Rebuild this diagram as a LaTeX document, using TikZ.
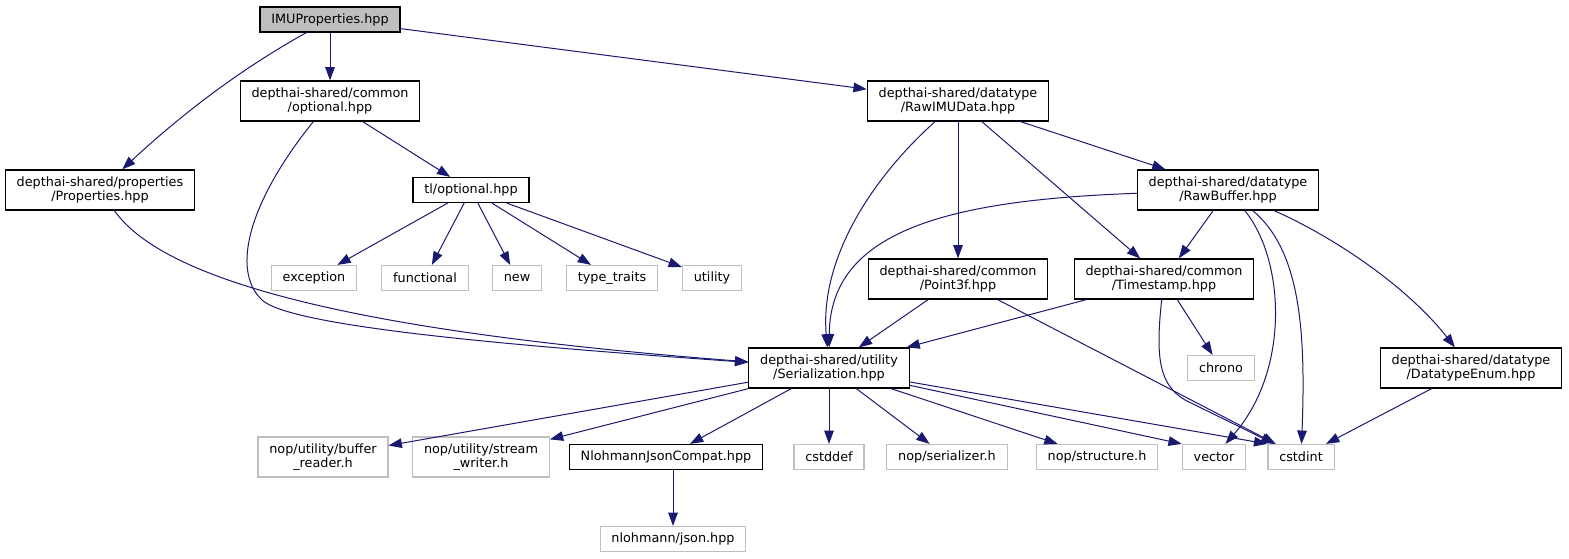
\documentclass[tikz,border=0pt]{standalone}
\usepackage{fontspec}
\setmainfont{DejaVu Sans}
\usetikzlibrary{arrows.meta}
\definecolor{edgeblue}{RGB}{25,25,112}
\definecolor{sysgray}{RGB}{191,191,191}
\tikzset{dep/.style = {color=edgeblue, line width=0.75pt,
                       -{Triangle[length=10pt,width=7.2pt]}}}
\tikzset{hdr/.style = {draw, line width=0.9pt, align=center, inner xsep=8.5pt, inner ysep=2pt,
                       minimum height=18.75pt, font=\fontsize{9.6}{10.5}\selectfont}}
\tikzset{sys/.style = {hdr, draw=sysgray}}
\tikzset{root/.style = {hdr, fill=sysgray}}
\tikzset{dbl/.style = {minimum height=30pt}}

\begin{document}
\begin{tikzpicture}[x=0.75pt, y=-0.75pt]
      \useasboundingbox (0, 0) rectangle (1569, 559);
      \node [root] (imu) at (330, 19.5) {IMUProperties.hpp};
      \node [hdr, dbl] (opt) at (330, 101) {depthai-shared/common\\/optional.hpp};
      \node [hdr, dbl] (props) at (100, 190) {depthai-shared/properties\\/Properties.hpp};
      \node [hdr] (tlopt) at (471, 190) {tl/optional.hpp};
      \node [sys] (exc) at (314, 278) {exception};
      \node [sys] (func) at (425, 278) {functional};
      \node [sys] (new) at (517, 278) {new};
      \node [sys] (traits) at (612, 278) {type\_traits};
      \node [sys] (util) at (712, 278) {utility};
      \node [hdr, dbl] (rawimu) at (958, 101) {depthai-shared/datatype\\/RawIMUData.hpp};
      \node [hdr, dbl] (rawbuf) at (1228, 190) {depthai-shared/datatype\\/RawBuffer.hpp};
      \node [hdr, dbl] (point) at (958, 279) {depthai-shared/common\\/Point3f.hpp};
      \node [hdr, dbl] (tstamp) at (1164, 279) {depthai-shared/common\\/Timestamp.hpp};
      \node [sys] (chrono) at (1221, 368) {chrono};
      \node [hdr, dbl] (dtenum) at (1471, 368) {depthai-shared/datatype\\/DatatypeEnum.hpp};
      \node [hdr, dbl] (ser) at (829, 368) {depthai-shared/utility\\/Serialization.hpp};
      \node [sys, dbl] (bufrd) at (323, 457) {nop/utility/buffer\\\_reader.h};
      \node [sys, dbl] (strwr) at (481, 457) {nop/utility/stream\\\_writer.h};
      \node [hdr] (njc) at (666, 457) {NlohmannJsonCompat.hpp};
      \node [sys] (cstddef) at (829, 457) {cstddef};
      \node [sys] (nopser) at (947, 457) {nop/serializer.h};
      \node [sys] (nopstr) at (1097, 457) {nop/structure.h};
      \node [sys] (vector) at (1214, 457) {vector};
      \node [sys] (cstdint) at (1301, 457) {cstdint};
      \node [sys] (json) at (673, 539) {nlohmann/json.hpp};

      \draw [dep] (imu) .. controls (230, 75) and (170, 125) .. (props);
      \draw [dep] (imu) -- (opt);
      \draw [dep] (imu) -- (rawimu);
      \draw [dep] (props) .. controls (170, 290) and (400, 335) .. (ser);
      \draw [dep] (opt) .. controls (250, 200) and (230, 270) .. (262, 300)
                        .. controls (290, 326) and (500, 345) .. (ser);
      \draw [dep] (opt) -- (tlopt);
      \foreach \sysh in {exc, func, new, traits, util}
        \draw [dep] (tlopt) -- (\sysh);
      \draw [dep] (rawimu) .. controls (870, 180) and (820, 260) .. (ser);
      \draw [dep] (rawimu) -- (point);
      \draw [dep] (rawimu) -- (tstamp);
      \draw [dep] (rawimu) -- (rawbuf);
      \draw [dep] (rawbuf) .. controls (950, 200) and (830, 230) .. (ser);
      \draw [dep] (rawbuf) -- (tstamp);
      \draw [dep] (rawbuf) .. controls (1285, 260) and (1290, 370) .. (vector);
      \draw [dep] (rawbuf) .. controls (1300, 250) and (1306, 330) .. (cstdint);
      \draw [dep] (rawbuf) .. controls (1340, 240) and (1410, 290) .. (dtenum);
      \draw [dep] (point) -- (ser);
      \draw [dep] (point) -- (cstdint);
      \draw [dep] (tstamp) -- (ser);
      \draw [dep] (tstamp) .. controls (1155, 360) and (1160, 385) .. (1185, 400) -- (cstdint);
      \draw [dep] (tstamp) -- (chrono);
      \draw [dep] (dtenum) -- (cstdint);
      \foreach \sysh in {bufrd, strwr, njc, cstddef, nopser, nopstr}
        \draw [dep] (ser) -- (\sysh);
      \draw [dep] (ser) -- (vector.north west);
      \draw [dep] (ser) -- (cstdint.north west);
      \draw [dep] (json |- njc.south) -- (json);
    \end{tikzpicture}
\end{document}
